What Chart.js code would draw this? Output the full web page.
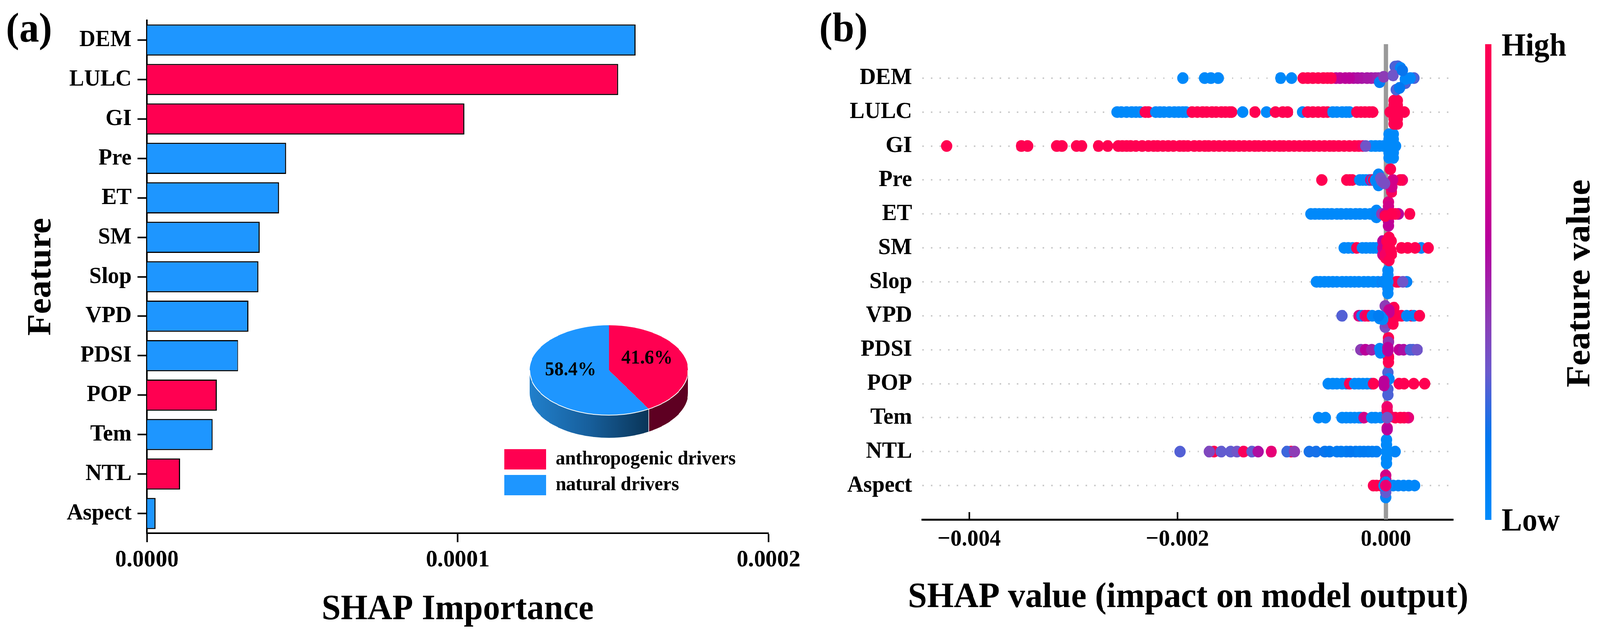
<!DOCTYPE html>
<html>
<head>
<meta charset="utf-8">
<title>SHAP importance</title>
<script src="https://cdn.jsdelivr.net/npm/chart.js@4"></script>
<style>
  html, body { margin: 0; background: #fff; overflow: hidden; }
  #page { position: absolute; left: 0; top: 0; width: 4281px; height: 1627px; transform-origin: 0 0; }
  canvas { position: absolute; }
</style>
</head>
<body>
<div id="page">
<canvas id="barChart" width="2200" height="1627" style="left:0;top:0"></canvas>
<canvas id="swarmChart" width="2141" height="1627" style="left:2140px;top:0"></canvas>
<canvas id="pieChart" width="640" height="518" style="left:1335px;top:759px"></canvas>
</div>
<script>
const features = ["DEM", "LULC", "GI", "Pre", "ET", "SM", "Slop", "VPD", "PDSI", "POP", "Tem", "NTL", "Aspect"];
const importance = [1.572e-4, 1.516e-4, 1.022e-4, 4.48e-5, 4.25e-5, 3.63e-5, 3.59e-5, 3.27e-5, 2.94e-5, 2.25e-5, 2.12e-5, 1.07e-5, 2.8e-6];
const driverType = ["n", "a", "a", "n", "n", "n", "n", "n", "n", "a", "n", "a", "n"];
const barTicks = [0, 0.0001, 0.0002];
const swarmTicks = [-0.004, -0.002, 0];

const pieLabels = ["anthropogenic drivers", "natural drivers"];
const pieShares = [41.6, 58.4];

// swarm points: [shap value in 1e-5, feature value 0-1, row offset]
const demPoints = [[-195,.02],[-174,.02],[-168,.02],[-161,.02],[-101,.02],[-90.5,.02],[-7,.45],[-10,.48],[-14,.5],[-18,.52],[-23,.52],[-27,.54],[-31,.55],[-35,.6],[-39,.6],[-44,.6],[-48,.62],[-79.5,1],[-75,1],[-70,1],[-65,1],[-60,1],[-56,1],[-52.5,1],
  [-6,.1,.12],[11.5,.27,-.35],[9,.27,-.34],[14,.05,-.3],[10,.27,.34],[18.7,.27,.15],[27,.27],[23.5,.03],[18.7,.03,.03],[-2,.42,-.04],[13,.15,.29],[7,.33,-.08],[16,.18,-.23]];
const lulcPoints = [[-258,.02],[-254,.02],[-249,.02],[-244,.02],[-240,.02],[-236,.02],[-231,1],[-228,1],[-221,.02],[-217,.02],[-213,.02],[-208,.02],[-203,.02],[-199,.02],[-195,.02],[-192,.02],[-186,1],[-181,1],[-176,1],[-172,1],[-167,1],[-163,1],[-158,1],[-154,1],[-150,1],[-148,1],[-137.5,.02],[-125.6,1],[-114.6,.02],[-106,1],[-99,1],[-94.3,1],[-80,.02],[-75,1],[-70,1],[-65,1],[-60,1],[-56,1],[-51,.02],[-47,.02],[-42,.02],[-38,.02],[-35,.02],[-28,1],[-24,1],[-20,1],[-16,1],[-12.7,1],
  [4,1],[17.7,1],[14,1],[8,1,-.34],[11,1,-.34],[8,1,-.2],[11,1,-.2],[8,1],[11,1],[8,1,.2],[11,1,.2],[8,1,.35],[11,1,.35]];
const giPoints = [[-421.7,1],[-350,1],[-344,1],[-316,1],[-311,1],[-297,1],[-292,1],[-276,1],[-267,1],[-257,1],[-253,1],[-249,1],[-245,1],[-240,1],[-234,1],[-228,1],[-223,1],[-219,1],[-214,1],[-209,1],[-204,1],[-198,1],[-194,1],[-190,1],[-184,1],[-179,1],[-174,1],[-170,1],[-165,1],[-160,1],[-155,1],[-150,1],[-146,1],[-141,1],[-136,1],[-131,1],[-126,1],[-122,1],[-117,1],[-112,1],[-107,1],[-102,1],[-98,1],[-93,1],[-88,1],[-83,1],[-78,1],[-74,1],[-69,1],[-64,1],[-59,1],[-54,1],[-50,1],[-45,1],[-40,1],[-35,1],[-30,1],[-26,1],[-14,.02],[-10,.02],[-6,.02],[-2,.02],[-22,.9],[-19.4,.33],
  [3,.02,-.35],[7.3,.02,-.35],[3,.02,-.2],[7.3,.02,-.2],[3,.02],[7.3,.02],[9.4,.02],[3,.02,.2],[7.3,.02,.2],[3,.02,.35],[7.3,.02,.35]];
const prePoints = [[-61.6,1],[-37.6,1],[-34.6,1],[-32.2,1],[-25,.02],[-22,.02],[-19,.02],[-16,.02],[-14.5,.7],[-13,.08],[-12,1],[-10,.05],
  [16,.85],[14,1],[-10,.05,.02],[-7,.05,-.165],[-7,.05,.16],[5.5,.95,.35],[4.3,.8,.2],[6,.7,.2],[6.7,.7],[-5,.33,-.05],[-4,.33,.03],[-2.3,.36,.07],[-1,.36,.1],[4.3,1,-.32]];
const etPoints = [[-72,.02],[-68,.02],[-64,.02],[-60,.02],[-56,.02],[-52,.02],[-47,.02],[-43,.02],[-38,.02],[-34,.02],[-29,.02],[-25,.02],[-20,.02],[-15,.02],[-10,.02],[-9,.03,.1],[-9,.03,-.1],[23,1],
  [-4,.42],[-.5,.55],[2.5,.75,-.35],[2.5,.7,-.22],[2.5,.65,.22],[2.5,.62,.35],[12,.6],[9,.95],[5.5,1],[-.5,1,.06]];
const smPoints = [[-40,.02],[-36,.02],[-32,.02],[-28,1],[-22.6,.02],[-19,.02],[-15,.02],[-12,.02],[-9,.02],[34,.03],[28,1],[21,1],[15,1],[40.8,1],
  [-3,.6,-.2],[-3,.65,0],[-3,.7,.2],[3,1,-.31],[3.5,1,-.16],[2,1,0],[1,1,-.2],[5,1,-.2],[0,1,.3],[-.5,.9,.2],[4.5,1,.06],[5.5,1,.18],[3,1,.37]];
const slopPoints = [[-66.6,.02],[-63,.02],[-59,.02],[-55,.02],[-51,.02],[-47,.02],[-42,.02],[-38,.02],[-34,.02],[-30,.02],[-26,.02],[-21,.02],[-17,.02],[-12,.02],[-7.6,.02],[10,1],[12,1],[20,.08],[16.3,.33],
  [-3,.7],[2,.02,-.34],[2,.02,-.2],[2,.02,.2],[2,.02,.34],[-3,.03],[2,.02]];
const vpdPoints = [[-42,.28],[-25.8,.75],[-23,.1],[-20,.8],[-17,1],[-13,.05],[11.5,1],[15,1],[24.6,1],[27,.05],[20,.05],[32.4,1],
  [-.5,.42,-.29],[-.5,.35,.33],[0,.4,.2],[5.5,.8,.14],[7,1,.24],[7.8,1,-.24],[5,1,0],[6,1,.1],[3,.65,-.17],[3,.65,-.1],[-6,.02,.08],[-5,.02,.02],[-3,.02,.1],[-7,.12]];
const pdsiPoints = [[-24,.42],[-19.6,.6],[-13.6,.5],[12.7,.62],[17,.55],[23.4,.27],[26,.27],[30,.33],
  [2.5,1,-.35],[2.5,1,-.25],[2.5,1,.37],[2.5,1,.25],[2.5,1,.2],[2.5,.45,-.22],[-5.9,.03,-.03],[-5.2,.03,.09],[2,.6,.03],[2,.6,-.06]];
const popPoints = [[-55.4,.02],[-51,.02],[-47,.02],[-42,.02],[-37.8,.02],[-35,1],[-30,.02],[-26,.02],[-22,.02],[-18,.02],[-14,.02],[-12,1],[12.7,1],[17.5,1],[26.8,1],[37.2,1],
  [2,.27,-.33],[2,.27,-.15],[2,.27,.33],[2,.27,.16],[3,.05,-.14],[-1.7,.6,-.07],[-1.7,.6,.05]];
const temPoints = [[-64.6,.02],[-58,.02],[-42,.02],[-38,.02],[-34,.02],[-30,.03],[-26,.03],[-24.4,.03],[-21,.7],[-13.6,.02],[-10,.02],[-5,.02],[21.6,.8],[17.5,.95],[14,1],[9,1],
  [1.3,.85,-.32],[1.3,.9,-.2],[1.3,.7,.3],[1.3,.6,.35],[4,.9,-.03],[1.3,.33]];
const ntlPoints = [[-197.6,.28],[-165,1],[-169.6,.38],[-158,.3],[-149,.3],[-143,.33],[-136.6,.95],[-128.6,.3],[-122.6,.55],[-110,.8],[-91,1],[-95,.25],[-87.8,.42],[-73.5,.2],[-67,.2],[-58.6,.18],[-54,.17],[-47,.14],[-43,.14],[-38,.14],[-34,.16],[-29,.16],[-25,.12],[-21,.14],[-17,.14],[-13,.12],[-9,.1],[9,.05],
  [.7,.02,-.35],[.7,.02,-.2],[.7,.02],[.7,.02,.2],[.7,.02,.35]];
const aspectPoints = [[-12,.98],[-9,1],[-5,1],[7,.03],[12,.03],[17,.03],[22,.03],[27.6,.03],
  [0,.7,-.3],[0,.75,-.18],[0,.03,.35],[0,.3,.2],[0,.07,-.1],[-2,.03],[0,.82]];

const swarmRows = [demPoints, lulcPoints, giPoints, prePoints, etPoints, smPoints, slopPoints, vpdPoints, pdsiPoints, popPoints, temPoints, ntlPoints, aspectPoints];

const red = "#FF0051";
const blue = "#1E96FF";
const serif = "'Liberation Serif', 'Times New Roman', serif";

// the window can come out narrower than the 4281px layout, squeeze it to fit
document.getElementById("page").style.transform = `scaleX(${Math.min(1, window.innerWidth / 4281)})`;

// red_blue map: position, r, g, b
const colorStops = [[0, 0, 139, 251], [.17, 0, 119, 240], [.31, 106, 90, 205], [.41, 138, 63, 184], [.59, 184, 0, 156], [.82, 236, 0, 114], [1, 255, 0, 81]];

function featureColor(v) {
  for (let i = 1; i < colorStops.length; i++) {
    if (v <= colorStops[i][0]) {
      const a = colorStops[i - 1];
      const b = colorStops[i];
      const t = (v - a[0]) / (b[0] - a[0]);
      return `rgb(${a[1] + (b[1] - a[1]) * t}, ${a[2] + (b[2] - a[2]) * t}, ${a[3] + (b[3] - a[3]) * t})`;
    }
  }
  return red;
}

function boldFont(size) {
  return { family: serif, size: size, weight: "bold" };
}

function panelText(ctx, text, x, y, size, angle) {
  ctx.save();
  ctx.translate(x, y);
  if (angle) ctx.rotate(angle);
  ctx.font = `bold ${size}px ${serif}`;
  ctx.fillStyle = "#000";
  ctx.textAlign = angle ? "center" : "left";
  ctx.textBaseline = "alphabetic";
  ctx.fillText(text, 0, 0);
  ctx.restore();
}

Chart.defaults.animation = false;
Chart.defaults.devicePixelRatio = 1;
Chart.defaults.color = "#000";

// Panel (a)
new Chart(document.getElementById("barChart"), {
  type: "bar",
  data: {
    labels: features,
    datasets: [{
      data: importance,
      backgroundColor: driverType.map(d => (d === "a" ? red : blue)),
      borderColor: "#000",
      borderWidth: 3,
      barPercentage: 0.79,
      categoryPercentage: 1,
    }],
  },
  options: {
    indexAxis: "y",
    responsive: false,
    layout: { padding: { top: 51, right: 144, left: 0, bottom: 0 } },
    plugins: { legend: { display: false }, tooltip: { enabled: false } },
    scales: {
      x: {
        min: 0,
        max: 0.0002,
        afterBuildTicks: scale => { scale.ticks = barTicks.map(v => ({ value: v })); },
        afterFit: scale => { scale.height = 263; },
        ticks: { font: boldFont(62), padding: 9, maxRotation: 0, callback: v => v.toFixed(4) },
        grid: { drawOnChartArea: false, tickColor: "#000", tickWidth: 4, tickLength: 23 },
        border: { color: "#000", width: 4 },
        title: { display: true, text: "SHAP Importance", font: boldFont(92), padding: { top: 0, bottom: 12 } },
      },
      y: {
        afterFit: scale => { scale.width = 393; },
        ticks: { font: boldFont(60), padding: 16, autoSkip: false },
        grid: { offset: false, drawOnChartArea: false, tickColor: "#000", tickWidth: 4, tickLength: 25 },
        border: { color: "#000", width: 4 },
        title: { display: true, text: "Feature", font: boldFont(91), padding: { top: 57, bottom: 0 } },
      },
    },
  },
  plugins: [{
    id: "panelLetter",
    afterDraw: chart => panelText(chart.ctx, "(a)", 16, 106, 106),
  }],
});

// Panel (a) inset: Chart.js pie squashed into an ellipse, with a side wall under it
const pieTilt = 0.5425;
const pieDepth = 58;
const pieShift = -26;

const pieTiltPlugin = {
  id: "pieTilt",
  beforeDatasetsDraw(chart) {
    const ctx = chart.ctx;
    const arcs = chart.getDatasetMeta(0).data;
    const { x, y: cy, outerRadius: r } = arcs[0];
    const cx = x + pieShift;
    const wallFills = [];
    wallFills[0] = "#5E0022";
    const grad = ctx.createLinearGradient(cx - r, 0, cx + r * 0.5, 0);
    grad.addColorStop(0, "#2180CC");
    grad.addColorStop(0.5, "#175F9C");
    grad.addColorStop(1, "#0A3558");
    wallFills[1] = grad;
    arcs.forEach((arc, i) => {
      const from = Math.max(arc.startAngle, 0);
      const to = Math.min(arc.endAngle, Math.PI);
      if (to <= from) return;
      ctx.beginPath();
      ctx.ellipse(cx, cy, r, r * pieTilt, 0, from, to);
      ctx.ellipse(cx, cy + pieDepth, r, r * pieTilt, 0, to, from, true);
      ctx.closePath();
      ctx.fillStyle = wallFills[i];
      ctx.fill();
    });
    ctx.save();
    ctx.translate(cx, cy);
    ctx.scale(1, pieTilt);
    ctx.translate(-x, -cy);
  },
  afterDatasetsDraw(chart) {
    const ctx = chart.ctx;
    ctx.restore();
    const arcs = chart.getDatasetMeta(0).data;
    const { x, y: cy, outerRadius: r } = arcs[0];
    const cx = x + pieShift;
    // white rim along the front edge and the seam between the two walls
    const seam = arcs[0].endAngle;
    ctx.strokeStyle = "#fff";
    ctx.lineWidth = 2;
    ctx.beginPath();
    ctx.ellipse(cx, cy, r, r * pieTilt, 0, 0, Math.PI);
    ctx.stroke();
    ctx.lineWidth = 1.5;
    ctx.beginPath();
    ctx.moveTo(cx + r * Math.cos(seam), cy + r * pieTilt * Math.sin(seam));
    ctx.lineTo(cx + r * Math.cos(seam), cy + r * pieTilt * Math.sin(seam) + pieDepth);
    ctx.stroke();
    ctx.font = `bold 50px ${serif}`;
    ctx.fillStyle = "#000";
    ctx.textAlign = "center";
    ctx.textBaseline = "middle";
    arcs.forEach((arc, i) => {
      const mid = (arc.startAngle + arc.endAngle) / 2;
      const lx = cx + r * 0.5 * Math.cos(mid);
      const ly = cy + r * 0.5 * pieTilt * Math.sin(mid) - 15;
      ctx.fillText(pieShares[i].toFixed(1) + "%", lx, ly);
    });
  },
};

new Chart(document.getElementById("pieChart"), {
  type: "pie",
  data: {
    labels: pieLabels,
    datasets: [{
      data: pieShares,
      backgroundColor: [red, blue],
      borderWidth: 0,
      radius: 212,
    }],
  },
  options: {
    responsive: false,
    plugins: {
      tooltip: { enabled: false },
      legend: {
        position: "bottom",
        align: "start",
        labels: { boxWidth: 112, boxHeight: 52, padding: 14, color: "#000", font: boldFont(51) },
      },
    },
  },
  plugins: [pieTiltPlugin],
});

// Panel (b)
const swarmDatasets = swarmRows.map((points, row) => ({
  data: points.map(([shap, , dy = 0]) => ({ x: shap / 1e5, y: row + dy })),
  backgroundColor: points.map(p => featureColor(p[1])),
  pointRadius: 15,
  pointBorderWidth: 0,
  showLine: false,
  order: row,
}));

swarmDatasets.push({
  data: [{ x: 0, y: -1 }, { x: 0, y: 13 }],
  showLine: true,
  borderColor: "#999999",
  borderWidth: 11,
  pointRadius: 0,
  order: 99,
});

new Chart(document.getElementById("swarmChart"), {
  type: "scatter",
  data: { datasets: swarmDatasets },
  options: {
    responsive: false,
    layout: { padding: { top: 113, right: 393, left: 0, bottom: 0 } },
    plugins: { legend: { display: false }, tooltip: { enabled: false } },
    scales: {
      x: {
        min: -0.00445,
        max: 0.000646,
        afterBuildTicks: scale => { scale.ticks = swarmTicks.map(v => ({ value: v })); },
        afterFit: scale => { scale.height = 298; },
        ticks: { font: boldFont(60), padding: 34, maxRotation: 0, callback: v => v.toFixed(3).replace("-", "\u2212") },
        grid: { drawOnChartArea: false, tickColor: "#000", tickWidth: 4, tickLength: -19 },
        border: { color: "#000", width: 5 },
      },
      y: {
        reverse: true,
        min: -1,
        max: 13,
        afterBuildTicks: scale => { scale.ticks = features.map((f, i) => ({ value: i })); },
        afterFit: scale => { scale.width = 328; },
        ticks: { font: boldFont(60), padding: 28, autoSkip: false, callback: v => features[v] },
        grid: { color: "#cccccc", lineWidth: 4, drawTicks: false },
        border: { display: false, dash: [4, 19] },
      },
    },
  },
  plugins: [{
    id: "colorBar",
    afterDraw(chart) {
      const ctx = chart.ctx;
      const barLeft = 1834;
      const barTop = 113;
      const barHeight = 1217;
      const grad = ctx.createLinearGradient(0, barTop + barHeight, 0, barTop);
      colorStops.forEach(s => grad.addColorStop(s[0], `rgb(${s[1]}, ${s[2]}, ${s[3]})`));
      ctx.fillStyle = grad;
      ctx.fillRect(barLeft, barTop, 16, barHeight);
      panelText(ctx, "(b)", 52, 106, 106);
      panelText(ctx, "High", 1878, 142, 82);
      panelText(ctx, "Low", 1878, 1357, 82);
      panelText(ctx, "Feature value", 2113, 725, 91, -Math.PI / 2);
      // wider than the axis, so the scale title would squeeze it
      panelText(ctx, "SHAP value (impact on model output)", 289, 1553, 92);
    },
  }],
});
</script>
</body>
</html>
